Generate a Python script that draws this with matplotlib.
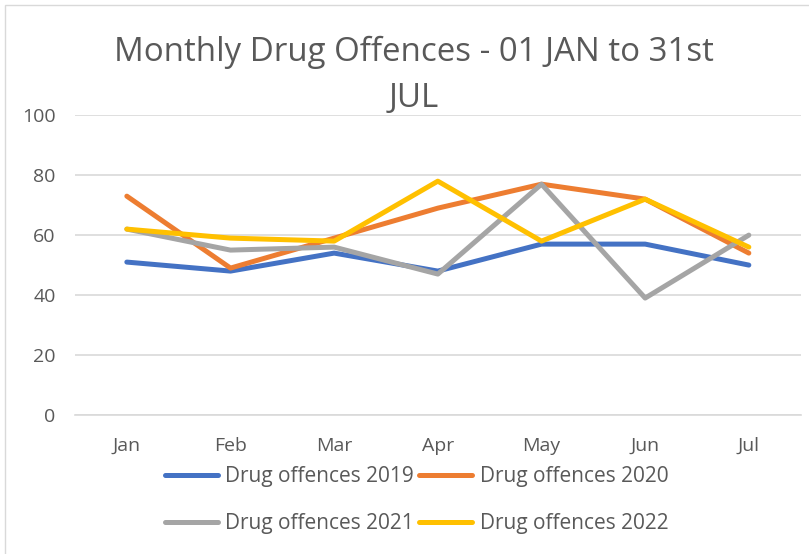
import matplotlib.pyplot as plt
from matplotlib.patches import Rectangle

# monthly counts
months = ["Jan", "Feb", "Mar", "Apr", "May", "Jun", "Jul"]
offences_2019 = [51, 48, 54, 48, 57, 57, 50]
offences_2020 = [73, 49, 59, 69, 77, 72, 54]
offences_2021 = [62, 55, 56, 47, 77, 39, 60]
offences_2022 = [62, 59, 58, 78, 58, 72, 56]

plt.rcParams["font.family"] = ["Open Sans", "DejaVu Sans"]
text_col = "#595959"
grid_col = "#D9D9D9"

fig = plt.figure(figsize=(8.09, 5.54), dpi=100)
ax = fig.add_axes([0.0927, 0.251, 0.897, 0.541])

x = range(len(months))
l19, = ax.plot(x, offences_2019, color="#4472C4", lw=3.6, solid_capstyle="round", label="Drug offences 2019")
l20, = ax.plot(x, offences_2020, color="#ED7D31", lw=3.6, solid_capstyle="round", label="Drug offences 2020")
l21, = ax.plot(x, offences_2021, color="#A5A5A5", lw=3.6, solid_capstyle="round", label="Drug offences 2021")
l22, = ax.plot(x, offences_2022, color="#FFC000", lw=3.6, solid_capstyle="round", label="Drug offences 2022")

ax.set_xlim(-0.5, len(months) - 0.5)
ax.set_ylim(0, 100)
ax.set_yticks(range(0, 101, 20))
ax.set_xticks(list(x))
ax.set_xticklabels(months)
ax.grid(axis="y", color=grid_col, lw=1.2)
ax.set_axisbelow(True)
for s in ["left", "right", "top"]:
    ax.spines[s].set_visible(False)
ax.spines["bottom"].set_color(grid_col)
ax.spines["bottom"].set_linewidth(1.2)
ax.tick_params(length=0, labelsize=14, colors=text_col)
ax.tick_params(axis="y", pad=14)
ax.tick_params(axis="x", pad=16)

fig.text(0.512, 0.905, "Monthly Drug Offences - 01 JAN to 31st", ha="center", va="center",
         fontsize=23.8, color=text_col)
fig.text(0.512, 0.822, "JUL", ha="center", va="center", fontsize=23.8, color=text_col)

# legend filled row by row: 2019, 2020 / 2021, 2022
handles = [l19, l21, l20, l22]
leg = fig.legend(handles, [h.get_label() for h in handles], loc="center",
                 bbox_to_anchor=(0.515, 0.097), ncol=2, frameon=False,
                 fontsize=15, labelcolor=text_col, handlelength=2.55, handletextpad=0.35,
                 columnspacing=0.25, labelspacing=1.25)

# chart frame
fig.patches.append(Rectangle((0.006, -0.1), 1.1, 1.091, transform=fig.transFigure,
                             fill=False, edgecolor="#D9D9D9", lw=1))

fig.savefig("out.png", dpi=100)
